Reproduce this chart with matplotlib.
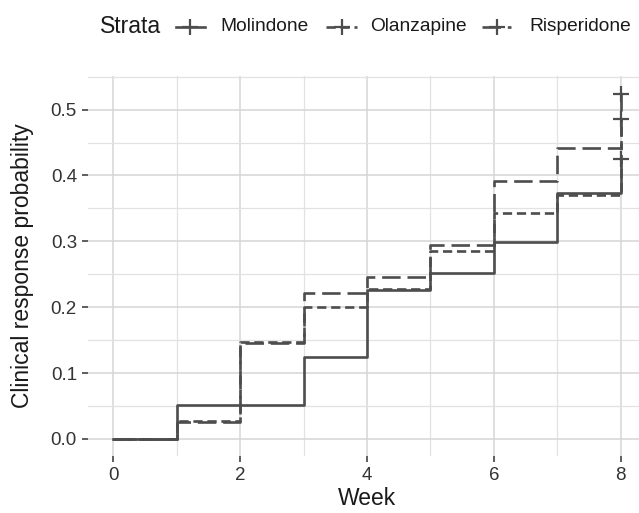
import matplotlib
matplotlib.use("Agg")
import matplotlib.pyplot as plt
from matplotlib.lines import Line2D
from matplotlib.ticker import MultipleLocator

plt.rcParams['font.family'] = ['Liberation Sans', 'DejaVu Sans']

weeks = [0, 1, 2, 3, 4, 5, 6, 7, 8]
strata = ["Molindone", "Olanzapine", "Risperidone"]
molindone = [0.0, 0.052, 0.052, 0.125, 0.226, 0.252, 0.299, 0.373, 0.425]
olanzapine = [0.0, 0.027, 0.147, 0.200, 0.228, 0.286, 0.343, 0.371, 0.486]
risperidone = [0.0, 0.025, 0.145, 0.222, 0.246, 0.295, 0.392, 0.441, 0.523]
x_ticks = [0, 2, 4, 6, 8]
y_ticks = [0.0, 0.1, 0.2, 0.3, 0.4, 0.5]

series = [molindone, olanzapine, risperidone]
styles = ['-', (0, (3.5, 1.8)), (0, (7, 2.6))]
col = '#4d4d4d'
lw = 1.9

W, H = 639, 513
fig = plt.figure(figsize=(W / 100, H / 100), dpi=100)
L, R, T, B = 88, 646, 76, 456
ax = fig.add_axes([L / W, 1 - B / H, (R - L) / W, (B - T) / H])

for vals, ls in zip(series, styles):
    ax.step(weeks, vals, where='post', color=col, lw=lw, linestyle=ls)
    ax.plot([weeks[-1]], [vals[-1]], marker='+', color=col, ms=11, mew=1.6,
            linestyle='none')

ax.set_xlim(-0.4, 8.4)
ax.set_ylim(-0.026, 0.551)
ax.set_xticks(x_ticks)
ax.set_xticklabels([str(v) for v in x_ticks])
ax.set_yticks(y_ticks)
ax.set_yticklabels([f"{v:.1f}" for v in y_ticks])
ax.xaxis.set_minor_locator(MultipleLocator(1))
ax.yaxis.set_minor_locator(MultipleLocator(0.05))
ax.grid(which='major', color='#d6d6d6', lw=1.1)
ax.grid(which='minor', color='#e2e2e2', lw=0.9)
ax.set_axisbelow(True)
for s in ax.spines.values():
    s.set_visible(False)
ax.tick_params(which='major', length=4.5, width=1.1, color='#333333',
               labelsize=13.5, labelcolor='#333333', pad=3.5)
ax.tick_params(which='minor', length=0)
ax.set_xlabel("Week", fontsize=16.5, color='#1a1a1a', labelpad=2)
ax.set_ylabel("Clinical response probability", fontsize=16.5,
              color='#1a1a1a', labelpad=12)

# legend (drawn manually to match spacing)
ly = 1 - 27 / H
fig.text(100 / W, ly, "Strata", fontsize=16.5, va='center', ha='left',
         color='#1a1a1a')
keys = [(176, 205, 220), (326, 357, 370), (482, 511, 529)]
for (k0, k1, tx), ls, name in zip(keys, styles, strata):
    fig.add_artist(Line2D([k0 / W, k1 / W], [ly, ly], transform=fig.transFigure,
                          color=col, lw=lw, linestyle=ls))
    fig.add_artist(Line2D([(k0 + k1) / 2 / W], [ly], transform=fig.transFigure,
                          color=col, marker='+', ms=11, mew=1.6,
                          linestyle='none'))
    fig.text(tx / W, ly, name, fontsize=13.8, va='center', ha='left',
             color='#1a1a1a')

fig.savefig("out.png", dpi=100)
